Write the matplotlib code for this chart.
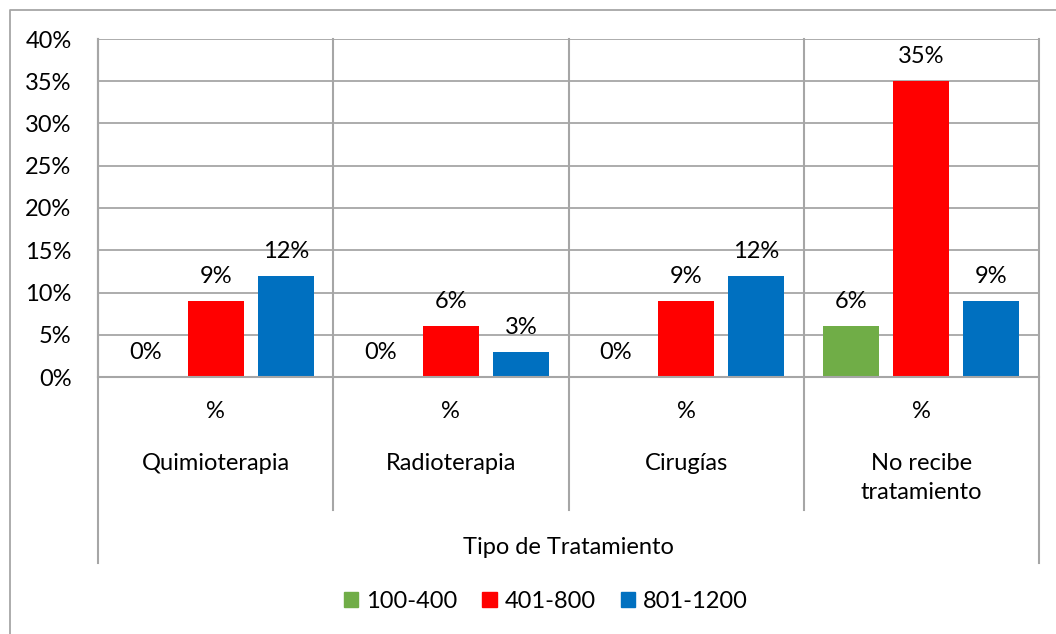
import matplotlib.pyplot as plt
import matplotlib.lines as mlines
import matplotlib.patches as mpatches
import numpy as np

categories = ["Quimioterapia", "Radioterapia", "Cirugías", "No recibe\ntratamiento"]
series_names = ["100-400", "401-800", "801-1200"]
v_100_400 = [0, 0, 0, 6]
v_401_800 = [9, 6, 9, 35]
v_801_1200 = [12, 3, 12, 9]
sub_label = "%"
outer_label = "Tipo de Tratamiento"
colors = ["#70AD47", "#FF0000", "#0070C0"]

plt.rcParams['font.family'] = ['Lato', 'DejaVu Sans']
grid_c = "#A6A6A6"
fs = 17

W, H = 1056, 634
fig = plt.figure(figsize=(W / 100, H / 100), dpi=100)
x0, x1, y_top, y_bot = 98, 1039, 39, 377
ax = fig.add_axes([x0 / W, 1 - y_bot / H, (x1 - x0) / W, (y_bot - y_top) / H])

x = np.arange(len(categories))
bw = 0.238
step = 0.298
all_vals = [v_100_400, v_401_800, v_801_1200]
for k, (vals, c) in enumerate(zip(all_vals, colors)):
    xs = x + (k - 1) * step
    ax.bar(xs, vals, width=bw, color=c, zorder=3, label=series_names[k])
    for xi, v in zip(xs, vals):
        ax.annotate("%d%%" % v, (xi, v), xytext=(0, 10), textcoords="offset points",
                    ha="center", va="bottom", fontsize=fs, color="black")

ax.set_xlim(-0.5, len(categories) - 0.5)
ax.set_ylim(0, 40)
ax.set_yticks(np.arange(0, 41, 5))
ax.set_yticklabels(["%d%%" % t for t in range(0, 41, 5)], fontsize=fs)
ax.tick_params(axis="y", length=0, pad=19)
ax.set_xticks([])
ax.grid(axis="y", color=grid_c, linewidth=1.3, zorder=0)
for s in ["top", "bottom", "right"]:
    ax.spines[s].set_visible(False)
ax.spines["left"].set_color(grid_c)
ax.spines["left"].set_linewidth(1.5)

def fy(py):
    return (y_bot - py) / (y_bot - y_top)

# vertical separators of the category axis
for b in np.arange(-0.5, len(categories), 1.0):
    bottom = fy(563) if b in (-0.5, len(categories) - 0.5) else fy(510)
    ax.plot([b, b], [bottom, 1.0], color=grid_c, lw=1.5, clip_on=False,
            transform=ax.get_xaxis_transform(), zorder=1)
ax.plot([-0.5, len(categories) - 0.5], [0, 0], color=grid_c, lw=1.5, clip_on=False,
        transform=ax.get_xaxis_transform(), zorder=4)

for xi, name in zip(x, categories):
    ax.text(xi, fy(411), sub_label, transform=ax.get_xaxis_transform(),
            ha="center", va="center", fontsize=fs)
    yy = fy(478) if "\n" in name else fy(463)
    ax.text(xi, yy, name, transform=ax.get_xaxis_transform(),
            ha="center", va="center", fontsize=fs, linespacing=1.45)
ax.text(np.mean(x), fy(547), outer_label, transform=ax.get_xaxis_transform(),
        ha="center", va="center", fontsize=fs)

# chart area border (only left and top are visible)
fig.add_artist(mlines.Line2D([9.5 / W, 9.5 / W, 1.0], [0, 1 - 9.5 / H, 1 - 9.5 / H],
                             color=grid_c, lw=1.3, transform=fig.transFigure))

handles = [mpatches.Patch(color=c, label=n) for c, n in zip(colors, series_names)]
fig.legend(handles=handles, loc="center", bbox_to_anchor=(546 / W, 1 - 601 / H),
           ncol=3, frameon=False, fontsize=fs, handlelength=0.6, handleheight=0.6,
           handletextpad=0.35, columnspacing=1.05)

fig.savefig("out.png", dpi=100)
